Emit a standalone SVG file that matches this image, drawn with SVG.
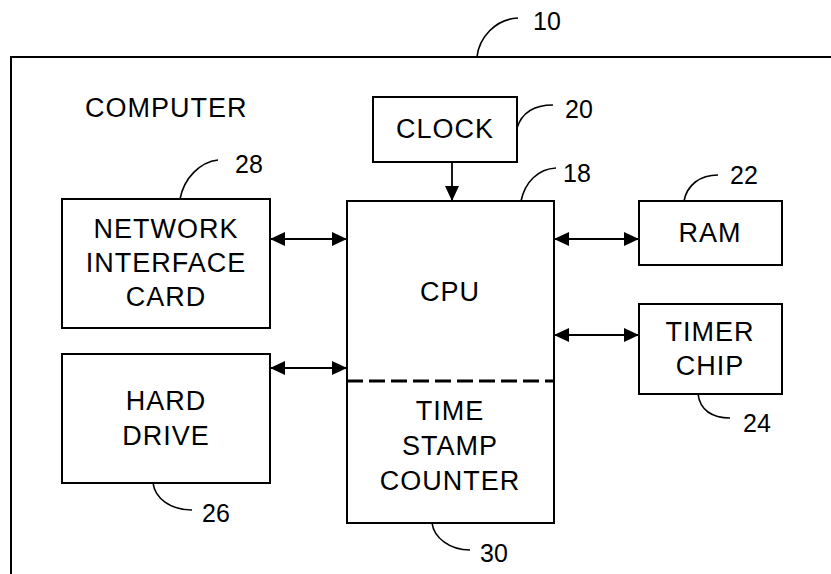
<svg xmlns="http://www.w3.org/2000/svg" width="831" height="574" viewBox="0 0 831 574">
<style>
.box{fill:#fff;stroke:#000;stroke-width:2}
.t{font-family:"Liberation Sans",Arial,sans-serif;font-size:27px;letter-spacing:1px;fill:#000;text-anchor:middle}
.n{font-family:"Liberation Sans",Arial,sans-serif;font-size:25px;fill:#000}
.lead{fill:none;stroke:#000;stroke-width:1.6}
.conn{fill:none;stroke:#000;stroke-width:1.8}
</style>
<defs>
<marker id="ah" markerUnits="userSpaceOnUse" markerWidth="16" markerHeight="14" refX="15" refY="7" orient="auto-start-reverse">
<path d="M0,0 L15,7 L0,14 z" fill="#000"/>
</marker>
</defs>
<rect width="831" height="574" fill="#fff"/>
<g id="computer">
<path d="M11,574 L11,57 L831,57" fill="none" stroke="#000" stroke-width="2"/>
<text class="t" x="85" y="117" style="text-anchor:start">COMPUTER</text>
<path class="lead" d="M477,57 C479,38 495,19 518,18"/>
<text class="n" x="533" y="30">10</text>
</g>
<g id="clock">
<rect class="box" x="373" y="97" width="144" height="65"/>
<text class="t" x="445" y="138">CLOCK</text>
<path class="lead" d="M517,128 C522,112 535,105 553,105"/>
<text class="n" x="565" y="118">20</text>
</g>
<g id="cpu">
<rect class="box" x="347" y="201" width="207" height="322"/>
<line x1="347" y1="381" x2="554" y2="381" stroke="#000" stroke-width="3" stroke-dasharray="16,6"/>
<text class="t" x="450" y="301">CPU</text>
<path class="lead" d="M521,201 C525,182 538,169 556,168"/>
<text class="n" x="563" y="182">18</text>
</g>
<g id="tsc">
<text class="t" x="450" y="420">TIME</text>
<text class="t" x="450" y="455">STAMP</text>
<text class="t" x="450" y="490">COUNTER</text>
<path class="lead" d="M432,523 C434,538 450,550 470,550"/>
<text class="n" x="480" y="562">30</text>
</g>
<g id="nic">
<rect class="box" x="62" y="199" width="208" height="129"/>
<text class="t" x="166" y="238">NETWORK</text>
<text class="t" x="166" y="272">INTERFACE</text>
<text class="t" x="166" y="306">CARD</text>
<path class="lead" d="M180,199 C184,178 200,162 218,160"/>
<text class="n" x="235" y="173">28</text>
</g>
<g id="harddrive">
<rect class="box" x="62" y="354" width="208" height="129"/>
<text class="t" x="166" y="410">HARD</text>
<text class="t" x="166" y="445">DRIVE</text>
<path class="lead" d="M153,483 C155,498 170,510 192,510"/>
<text class="n" x="202" y="522">26</text>
</g>
<g id="ram">
<rect class="box" x="639" y="201" width="143" height="64"/>
<text class="t" x="710" y="242">RAM</text>
<path class="lead" d="M684,201 C687,185 700,175 718,175"/>
<text class="n" x="730" y="184">22</text>
</g>
<g id="timer">
<rect class="box" x="639" y="304" width="143" height="90"/>
<text class="t" x="710" y="341">TIMER</text>
<text class="t" x="710" y="375">CHIP</text>
<path class="lead" d="M698,394 C700,410 712,418 730,418"/>
<text class="n" x="743" y="432">24</text>
</g>
<g id="connectors">
<line class="conn" x1="452" y1="162" x2="452" y2="201" marker-end="url(#ah)"/>
<line class="conn" x1="270" y1="239" x2="347" y2="239" marker-start="url(#ah)" marker-end="url(#ah)"/>
<line class="conn" x1="270" y1="368" x2="347" y2="368" marker-start="url(#ah)" marker-end="url(#ah)"/>
<line class="conn" x1="554" y1="239" x2="639" y2="239" marker-start="url(#ah)" marker-end="url(#ah)"/>
<line class="conn" x1="554" y1="335" x2="639" y2="335" marker-start="url(#ah)" marker-end="url(#ah)"/>
</g>
</svg>
